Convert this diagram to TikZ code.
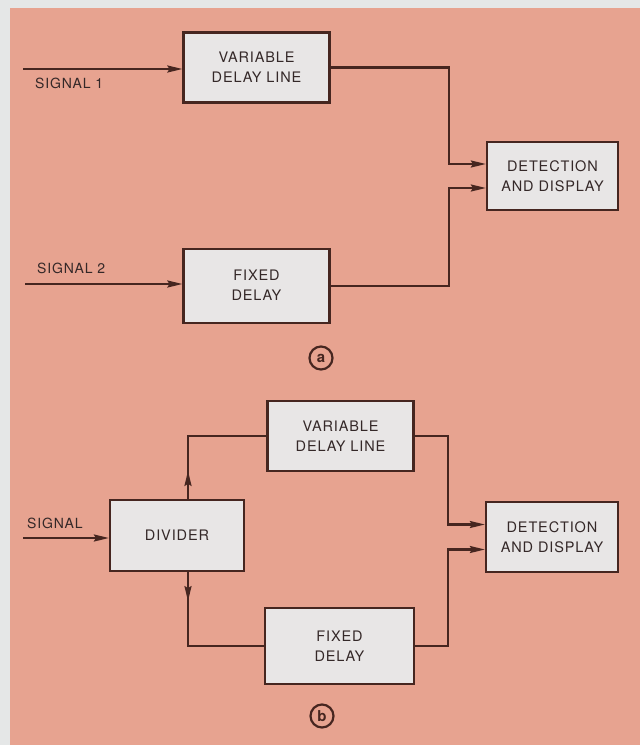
\documentclass[tikz,border=0pt]{standalone}
\usepackage{fontspec}
\usepackage{tikz}
\usetikzlibrary{arrows.meta,positioning}
\newfontfamily\lettering[LetterSpace=6]{TeX Gyre Heros}
\definecolor{paperwhite}{RGB}{229,231,231}
\definecolor{salmonbg}{RGB}{231,163,144}
\definecolor{boxgrey}{RGB}{232,230,230}
\definecolor{inkbrown}{RGB}{70,38,32}
\definecolor{inktext}{RGB}{52,40,40}
\tikzset{
  bloque/.style={
    draw=inkbrown,
    line width=2.2pt,
    fill=boxgrey,
    align=center,
    minimum width=146pt,
    minimum height=70pt,
    inner sep=0pt,
    text=inktext,
    font=\lettering\fontsize{14.5}{20}\selectfont
  },
  etiqueta/.style={
    anchor=west,
    inner sep=0pt,
    text=inktext,
    font=\lettering\fontsize{14}{16}\selectfont
  },
  marca/.style={
    circle,
    draw=inkbrown,
    line width=2.2pt,
    minimum size=23pt,
    inner sep=0pt,
    text=inkbrown,
    font=\lettering\bfseries\fontsize{15}{15}\selectfont
  },
  linea/.style={
    line width=2.2pt,
    inkbrown
  },
  arrow/.style={
    -{Stealth[length=15pt,width=7pt,inset=2pt]},
    line width=2.2pt,
    inkbrown
  }
}

\begin{document}
\begin{tikzpicture}[x=1pt,y=-1pt]
\useasboundingbox (0,0) rectangle (640,745);
\fill[paperwhite] (0,0) rectangle (640,745);
\fill[salmonbg] (10,8) rectangle (640,745);

% (a)
\node[bloque] (var1) at (256.5,67.5) {VARIABLE\\DELAY LINE};
\node[bloque, minimum height=74pt, below=144pt of var1] (fix1) {FIXED\\DELAY};
\node[bloque, minimum width=131pt, minimum height=68pt] (det1) at (552.5,176) {DETECTION\\AND DISPLAY};
\coordinate (s1) at (23,69);
\coordinate (s2) at (25,284);
\node[etiqueta] (l1) at (35,83) {SIGNAL 1};
\node[etiqueta] (l2) at (37,268) {SIGNAL 2};
\draw[arrow] (s1) -- (s1 -| var1.west);
\draw[arrow] (s2) -- (s2 -| fix1.west);
\draw[arrow] (var1.east) -| ([xshift=-37pt,yshift=12pt]det1.west) -- ([yshift=12pt]det1.west);
\draw[arrow] (fix1.east) -| ([xshift=-37pt,yshift=-12pt]det1.west) -- ([yshift=-12pt]det1.west);
\node[marca] (ca) at (321,358) {a};

% (b)
\node[bloque, minimum width=134pt, minimum height=71pt] (div) at (177,535.5) {DIVIDER};
\node[bloque] (var2) at (340.5,436) {VARIABLE\\DELAY LINE};
\node[bloque, minimum width=149pt, minimum height=76pt] (fix2) at (339.5,646) {FIXED\\DELAY};
\node[bloque, minimum width=132pt] (det2) at (552,537) {DETECTION\\AND DISPLAY};
\coordinate (s3) at (23,538);
\node[etiqueta] (l3) at (27,523) {SIGNAL};
\draw[arrow] (s3) -- (s3 -| div.west);
\draw[linea] ([xshift=11pt]div.north) |- (var2.west);
\draw[arrow] ([xshift=11pt]div.north) -- ++(0,-28);
\draw[linea] ([xshift=11pt]div.south) |- (fix2.west);
\draw[arrow] ([xshift=11pt]div.south) -- ++(0,29);
\draw[arrow] (var2.east) -| ([xshift=-37pt,yshift=12.5pt]det2.west) -- ([yshift=12.5pt]det2.west);
\draw[arrow] (fix2.east) -| ([xshift=-37pt,yshift=-12.5pt]det2.west) -- ([yshift=-12.5pt]det2.west);
\node[marca] (cb) at (322,716) {b};
\end{tikzpicture}
\end{document}
